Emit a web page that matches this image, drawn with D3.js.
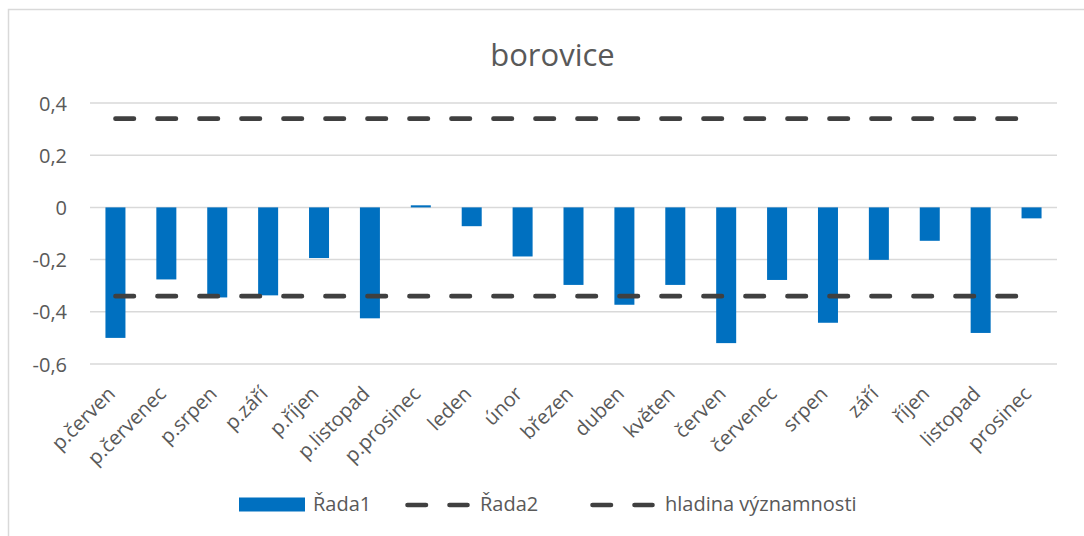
<!DOCTYPE html>
<html>
<head>
<meta charset="utf-8">
<script src="https://cdn.jsdelivr.net/npm/d3@7"></script>
<style>
  html, body { margin: 0; padding: 0; background: #fff; }
  svg { display: block; }
  text { font-family: "Open Sans", "Noto Sans", sans-serif; fill: #595959; }
</style>
</head>
<body>
<svg id="chart" width="1084" height="536"></svg>
<script>
const categories = ["p.červen","p.červenec","p.srpen","p.září","p.říjen","p.listopad","p.prosinec","leden","únor","březen","duben","květen","červen","červenec","srpen","září","říjen","listopad","prosinec"];
const rada1 = [-0.50,-0.276,-0.345,-0.337,-0.194,-0.425,0.008,-0.072,-0.188,-0.297,-0.373,-0.297,-0.52,-0.278,-0.442,-0.201,-0.128,-0.481,-0.042];
const rada2 = [0.34,0.34,0.34,0.34,0.34,0.34,0.34,0.34,0.34,0.34,0.34,0.34,0.34,0.34,0.34,0.34,0.34,0.34,0.34];
const hladina = [-0.34,-0.34,-0.34,-0.34,-0.34,-0.34,-0.34,-0.34,-0.34,-0.34,-0.34,-0.34,-0.34,-0.34,-0.34,-0.34,-0.34,-0.34,-0.34];
const yTicks = [-0.6,-0.4,-0.2,0,0.2,0.4];
const title = "borovice";
const legendLabels = ["Řada1","Řada2","hladina významnosti"];

const svg = d3.select("#chart");
const blue = "#0070c0", dark = "#404040", grid = "#d9d9d9";

// chart border
svg.append("rect").attr("x",8.5).attr("y",9.5).attr("width",1100).attr("height",600)
  .attr("fill","none").attr("stroke","#d9d9d9").attr("stroke-width",1.5);

const x = d3.scaleBand().domain(categories).range([90,1057]).paddingInner(0.607).paddingOuter(0.3035);
const y = d3.scaleLinear().domain([-0.6,0.4]).range([364,103]);
const cx = d => x(d) + x.bandwidth()/2;

// title
svg.append("text").attr("x",552.5).attr("y",65.5).attr("text-anchor","middle")
  .style("font-size","31px").text(title);

// gridlines
svg.append("g").selectAll("line").data(yTicks).join("line")
  .attr("x1",90).attr("x2",1057).attr("y1",d=>y(d)).attr("y2",d=>y(d))
  .attr("stroke",grid).attr("stroke-width",1.5);

// y axis labels
const fmt = d => d3.format(".1f")(d).replace(".",",").replace("0,0","0").replace("−","-");
const yAxis = svg.append("g").attr("transform","translate(67,0)")
  .call(d3.axisLeft(y).tickValues(yTicks).tickSize(0).tickPadding(0).tickFormat(d => d===0 ? "0" : d3.format(".1f")(d).replace(".",",").replace("−","-")));
yAxis.select(".domain").remove();
yAxis.selectAll("text").style("font-size","20px").attr("fill","#595959").style("font-family","'Open Sans', sans-serif").attr("dy","0.35em");

// bars
svg.append("g").selectAll("rect").data(rada1).join("rect")
  .attr("x",(d,i)=>x(categories[i]))
  .attr("width",x.bandwidth())
  .attr("y",d=>Math.min(y(d),y(0)))
  .attr("height",d=>Math.abs(y(d)-y(0)))
  .attr("fill",blue);

// dashed lines
const line = d3.line().x((d,i)=>cx(categories[i])).y(d=>y(d));
[rada2, hladina].forEach(s => {
  svg.append("path").datum(s).attr("d",line).attr("fill","none")
    .attr("stroke",dark).attr("stroke-width",4.6).attr("stroke-linecap","round")
    .attr("stroke-dasharray","18.5,23.5");
});

// x labels
const xAxis = svg.append("g").attr("transform","translate(0,395)")
  .call(d3.axisBottom(x).tickSize(0).tickPadding(0));
xAxis.select(".domain").remove();
xAxis.selectAll("text")
  .style("font-size","20px").style("font-family","'Open Sans', sans-serif").attr("fill","#595959")
  .attr("text-anchor","end").attr("y",0).attr("dy",0).attr("x",0)
  .attr("transform","translate(1,0) rotate(-45)");

// legend
const lg = svg.append("g");
lg.append("rect").attr("x",239).attr("y",497.5).attr("width",66).attr("height",14).attr("fill",blue);
lg.append("text").attr("x",313).attr("y",511).style("font-size","20px").text(legendLabels[0]);
[[407.5,480,legendLabels[1]],[592.5,665,legendLabels[2]]].forEach(([x0,tx,lbl]) => {
  lg.append("line").attr("x1",x0).attr("x2",x0+60).attr("y1",505).attr("y2",505)
    .attr("stroke",dark).attr("stroke-width",4.6).attr("stroke-linecap","round").attr("stroke-dasharray","18.5,23.5");
  lg.append("text").attr("x",tx).attr("y",511).style("font-size","20px").text(lbl);
});
</script>
</body>
</html>
